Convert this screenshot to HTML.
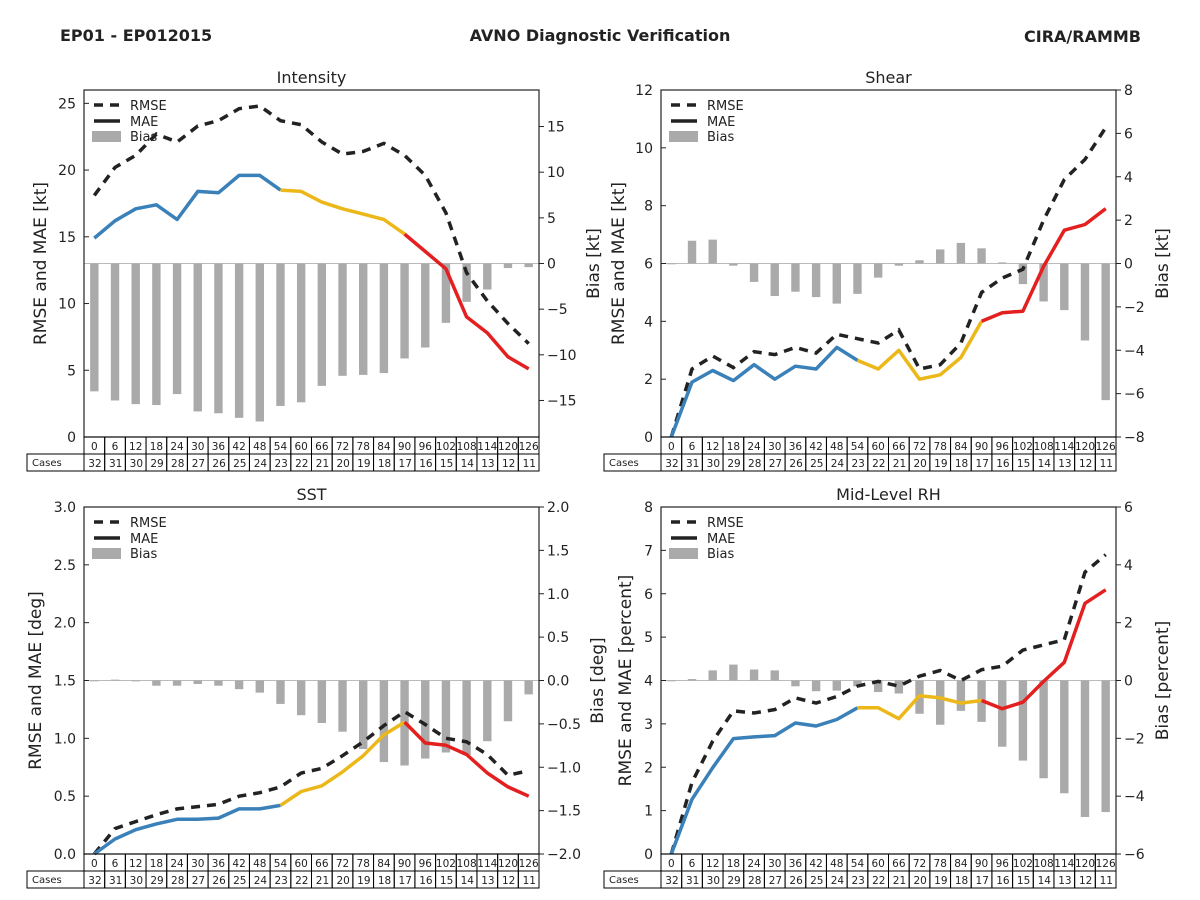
<!DOCTYPE html>
<html><head><meta charset="utf-8">
<style>
body{margin:0;background:#fff;font-family:"Liberation Sans","DejaVu Sans",sans-serif;}
svg{display:block}
text{font-family:"DejaVu Sans","Liberation Sans",sans-serif;fill:#222}
</style></head>
<body>
<svg id="chart" width="1200" height="900" viewBox="0 0 1200 900">
<text x="60" y="41" font-size="16" font-weight="bold">EP01 - EP012015</text>
<text x="600" y="41" font-size="16" font-weight="bold" text-anchor="middle">AVNO Diagnostic Verification</text>
<text x="1141" y="42" font-size="16" font-weight="bold" text-anchor="end">CIRA/RAMMB</text>
</svg>
<script>
const leads = [0,6,12,18,24,30,36,42,48,54,60,66,72,78,84,90,96,102,108,114,120,126];
const cases = [32,31,30,29,28,27,26,25,24,23,22,21,20,19,18,17,16,15,14,13,12,11];

const intRmse = [18.1,20.2,21.1,22.7,22.1,23.3,23.7,24.6,24.8,23.7,23.4,22.1,21.2,21.4,22.0,21.1,19.6,16.8,12.3,10.2,8.5,7.0];
const intMae = [14.9,16.2,17.1,17.4,16.3,18.4,18.3,19.6,19.6,18.5,18.4,17.6,17.1,16.7,16.3,15.2,13.9,12.6,9.0,7.8,6.0,5.1];
const intBias = [-14.0,-15.0,-15.4,-15.5,-14.3,-16.2,-16.4,-16.9,-17.3,-15.6,-15.2,-13.4,-12.3,-12.2,-12.0,-10.4,-9.2,-6.5,-4.2,-2.85,-0.5,-0.4];

const shRmse = [0.0,2.35,2.8,2.4,2.95,2.85,3.1,2.9,3.55,3.4,3.25,3.7,2.35,2.5,3.25,5.0,5.5,5.8,7.5,8.9,9.6,10.7];
const shMae = [0.0,1.9,2.3,1.95,2.5,2.0,2.45,2.35,3.1,2.65,2.35,3.0,2.0,2.15,2.75,4.0,4.3,4.35,5.9,7.15,7.35,7.9];
const shBias = [0.0,1.05,1.1,-0.1,-0.85,-1.5,-1.3,-1.55,-1.85,-1.4,-0.65,-0.1,0.15,0.65,0.95,0.7,0.05,-0.95,-1.75,-2.15,-3.55,-6.3];

const sstRmse = [0.0,0.22,0.28,0.34,0.39,0.41,0.43,0.50,0.53,0.58,0.70,0.74,0.85,0.97,1.11,1.23,1.12,1.00,0.97,0.86,0.68,0.72];
const sstMae = [0.0,0.13,0.21,0.26,0.30,0.30,0.31,0.39,0.39,0.42,0.54,0.59,0.71,0.85,1.03,1.14,0.96,0.94,0.86,0.70,0.58,0.50];
const sstBias = [0.0,0.01,-0.01,-0.06,-0.06,-0.04,-0.06,-0.10,-0.14,-0.27,-0.40,-0.49,-0.59,-0.79,-0.94,-0.98,-0.90,-0.83,-0.86,-0.70,-0.47,-0.16];

const rhRmse = [0.0,1.65,2.6,3.3,3.25,3.33,3.6,3.48,3.63,3.87,3.98,3.87,4.1,4.23,4.0,4.25,4.33,4.7,4.82,4.94,6.5,6.9];
const rhMae = [0.0,1.26,1.99,2.66,2.7,2.73,3.02,2.95,3.1,3.37,3.37,3.12,3.65,3.6,3.48,3.54,3.35,3.5,3.98,4.42,5.78,6.09];
const rhBias = [0.0,0.05,0.35,0.55,0.38,0.35,-0.2,-0.37,-0.35,-0.2,-0.4,-0.45,-1.15,-1.53,-1.05,-1.43,-2.29,-2.77,-3.38,-3.9,-4.72,-4.55];

const NS = "http://www.w3.org/2000/svg";
const svg = document.getElementById('chart');
function mk(tag, attrs, parent){const e=document.createElementNS(NS,tag);for(const k in attrs)e.setAttribute(k,attrs[k]);(parent||svg).appendChild(e);return e;}

const panels = [
 {name:'intensity',title:'Intensity',x0:84,y0:90,rmse:intRmse,mae:intMae,bias:intBias,lmin:0,lmax:26,lticks:[0,5,10,15,20,25],lfmt:v=>String(v),bmin:-19,bmax:19,bticks:[-15,-10,-5,0,5,10,15],bfmt:v=>String(v).replace('-','\u2212'),ylab:'RMSE and MAE [kt]',blab:'Bias [kt]',ylx:46,blx:599,casesX:27},
 {name:'shear',title:'Shear',x0:661,y0:90,rmse:shRmse,mae:shMae,bias:shBias,lmin:0,lmax:12,lticks:[0,2,4,6,8,10,12],lfmt:v=>String(v),bmin:-8,bmax:8,bticks:[-8,-6,-4,-2,0,2,4,6,8],bfmt:v=>String(v).replace('-','\u2212'),ylab:'RMSE and MAE [kt]',blab:'Bias [kt]',ylx:624,blx:1168,casesX:604},
 {name:'sst',title:'SST',x0:84,y0:507,rmse:sstRmse,mae:sstMae,bias:sstBias,lmin:0,lmax:3,lticks:[0,0.5,1,1.5,2,2.5,3],lfmt:v=>v.toFixed(1),bmin:-2,bmax:2,bticks:[-2,-1.5,-1,-0.5,0,0.5,1,1.5,2],bfmt:v=>v.toFixed(1).replace('-','\u2212'),ylab:'RMSE and MAE [deg]',blab:'Bias [deg]',ylx:41,blx:603,casesX:27},
 {name:'mid-level-rh',title:'Mid-Level RH',x0:661,y0:507,rmse:rhRmse,mae:rhMae,bias:rhBias,lmin:0,lmax:8,lticks:[0,1,2,3,4,5,6,7,8],lfmt:v=>String(v),bmin:-6,bmax:6,bticks:[-6,-4,-2,0,2,4,6],bfmt:v=>String(v).replace('-','\u2212'),ylab:'RMSE and MAE [percent]',blab:'Bias [percent]',ylx:631,blx:1168,casesX:604}
];
const W=455,H=347,N=leads.length,cw=W/N;

panels.forEach(p=>{
 const g=mk('g',{});
 
 
 const xs=i=>p.x0+cw*(i+0.5);
 const yl=v=>p.y0+H-(v-p.lmin)/(p.lmax-p.lmin)*H;
 const yb=v=>p.y0+H-(v-p.bmin)/(p.bmax-p.bmin)*H;
 const t=mk('text',{x:p.x0+W/2,y:p.y0-7,'font-size':16,'text-anchor':'middle'},g);t.textContent=p.title;
 
 
 // zero line
 const zl=mk('line',{x1:p.x0,x2:p.x0+W,y1:yb(0),y2:yb(0),stroke:'#bbb','stroke-width':1},g);
 
 
 // bars
 p.bias.forEach((v,i)=>{
  const y1=yb(Math.max(v,0)),y2=yb(Math.min(v,0));
  const r=mk('rect',{x:xs(i)-4.2,y:y1,width:8.4,height:Math.max(y2-y1,0.8),fill:'#aaaaaa'},g);
  
  
 });
 // rmse
 const rp=p.rmse.map((v,i)=>xs(i).toFixed(1)+','+yl(v).toFixed(1)).join(' ');
 const rl=mk('polyline',{points:rp,fill:'none',stroke:'#222','stroke-width':3.5,'stroke-dasharray':'9,7'},g);
 
 
 // mae segments
 const segs=[[0,9,'#3a80b9'],[9,15,'#ecb819'],[15,21,'#e41f1f']];
 segs.forEach(s=>{
  const pts=[];for(let i=s[0];i<=s[1];i++)pts.push(xs(i).toFixed(1)+','+yl(p.mae[i]).toFixed(1));
  const ml=mk('polyline',{points:pts.join(' '),fill:'none',stroke:s[2],'stroke-width':3.5,'stroke-linejoin':'round'},g);
  
  
 });
 // frame
 const fr=mk('rect',{x:p.x0,y:p.y0,width:W,height:H,fill:'none',stroke:'#222','stroke-width':1.2},g);
 
 
 // left ticks
 p.lticks.forEach(v=>{
  mk('line',{x1:p.x0,x2:p.x0+5,y1:yl(v),y2:yl(v),stroke:'#222'},g);
  const tt=mk('text',{x:p.x0-8,y:yl(v)+5,'font-size':14,'text-anchor':'end'},g);tt.textContent=p.lfmt(v);
  
  
 });
 p.bticks.forEach(v=>{
  mk('line',{x1:p.x0+W,x2:p.x0+W+5,y1:yb(v),y2:yb(v),stroke:'#222'},g);
  const tt=mk('text',{x:p.x0+W+8,y:yb(v)+5,'font-size':14},g);tt.textContent=p.bfmt(v);
  
  
 });
 const yt=mk('text',{x:p.ylx,y:p.y0+H/2,'font-size':17,'text-anchor':'middle',transform:'rotate(-90 '+p.ylx+' '+(p.y0+H/2)+')'},g);yt.textContent=p.ylab;
 
 
 const bt=mk('text',{x:p.blx,y:p.y0+H/2,'font-size':17,'text-anchor':'middle',transform:'rotate(-90 '+p.blx+' '+(p.y0+H/2)+')'},g);bt.textContent=p.blab;
 
 
 // legend
 const lx=p.x0+10,ly=p.y0+15;
 mk('line',{x1:lx,x2:lx+26,y1:ly,y2:ly,stroke:'#222','stroke-width':3.5,'stroke-dasharray':'9,7'},g);
 let lt=mk('text',{x:lx+36,y:ly+5,'font-size':13},g);lt.textContent='RMSE';
 
 
 mk('line',{x1:lx,x2:lx+26,y1:ly+16,y2:ly+16,stroke:'#222','stroke-width':3.5},g);
 lt=mk('text',{x:lx+36,y:ly+21,'font-size':13},g);lt.textContent='MAE';
 
 
 mk('rect',{x:lx-2,y:ly+26,width:29,height:11,fill:'#aaaaaa'},g);
 lt=mk('text',{x:lx+36,y:ly+36,'font-size':13},g);lt.textContent='Bias';
 
 
 // table
 const ty=p.y0+H;
 for(let i=0;i<N;i++){
  const cx=p.x0+cw*i;
  mk('rect',{x:cx,y:ty,width:cw,height:17,fill:'none',stroke:'#000','stroke-width':1},g);
  const c1=mk('text',{x:cx+cw/2,y:ty+13,'font-size':10.5,'text-anchor':'middle'},g);c1.textContent=leads[i];
  
  
  mk('rect',{x:cx,y:ty+17,width:cw,height:17,fill:'none',stroke:'#000','stroke-width':1},g);
  const c2=mk('text',{x:cx+cw-3,y:ty+30,'font-size':10.5,'text-anchor':'end'},g);c2.textContent=cases[i];
  
  
 }
 mk('rect',{x:p.casesX,y:ty+17,width:p.x0-p.casesX,height:17,fill:'none',stroke:'#000','stroke-width':1},g);
 const cl=mk('text',{x:p.casesX+5,y:ty+29,'font-size':10},g);cl.textContent='Cases';
 
 
});
</script>
</body></html>
